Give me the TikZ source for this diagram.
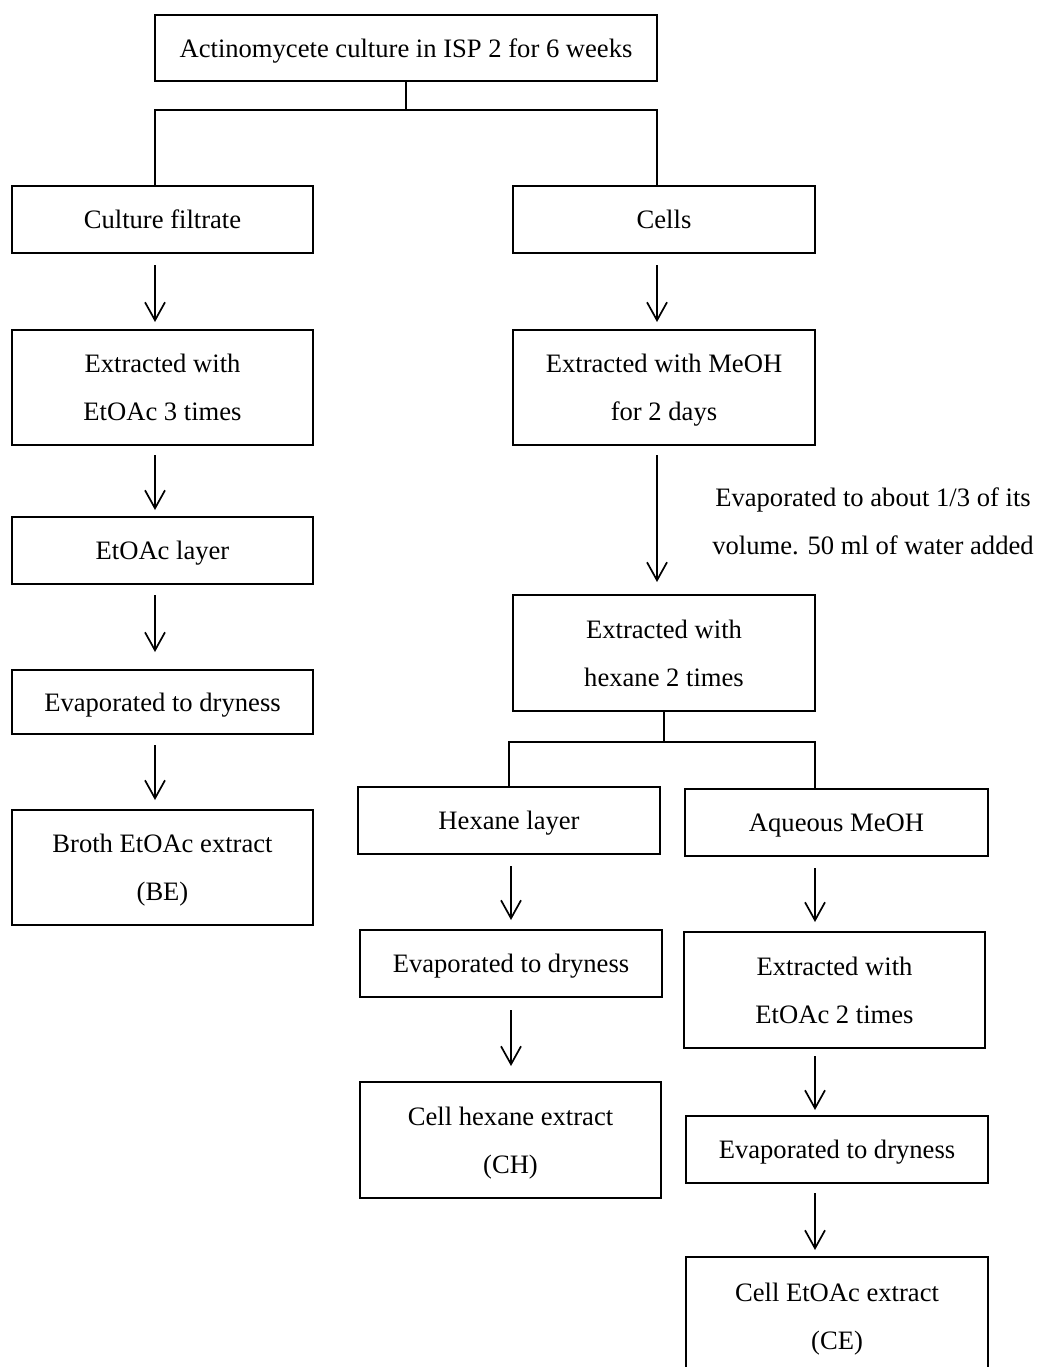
\documentclass[tikz,border=0pt]{standalone}
\usepackage{fontspec}
\setmainfont{Liberation Serif}
\usetikzlibrary{arrows.meta,calc}
\begin{document}
\begin{tikzpicture}[x=1pt,y=-1pt,
  box/.style={draw, line width=2pt, inner sep=0pt, outer sep=0pt, align=center,
    font=\fontsize{26.6}{48}\selectfont, text depth=0pt, minimum height=#1},
  box/.default=67pt,
  conn/.style={line width=2pt},
  arr/.style={line width=1.7pt, -{Straight Barb[length=18pt,width=20pt,line width=1.7pt]}},
  lbl/.style={align=center, font=\fontsize{26.6}{48}\selectfont, inner sep=0pt}]
\useasboundingbox (0,0) rectangle (1037,1367);
\clip (0,0) rectangle (1037,1367);
\fill[white] (0,0) rectangle (1037,1367);
% nodes
\node[box, minimum width=502pt, minimum height=66pt] (top) at (406,48) {Actinomycete culture in ISP 2 for 6 weeks};
\node[box, minimum width=301pt] (cf) at (162.5,219.5) {Culture filtrate};
\node[box, minimum width=302pt] (cells) at (664,219.5) {Cells};
\node[box=115pt, minimum width=301pt] (ex1) at (162.5,387.5) {Extracted with\\EtOAc 3 times};
\node[box, minimum width=301pt] (etl) at (162.5,550.5) {EtOAc layer};
\node[box=64pt, minimum width=301pt] (ev1) at (162.5,702) {Evaporated to dryness};
\node[box=115pt, minimum width=301pt] (be) at (162.5,867.5) {Broth EtOAc extract\\(BE)};
\node[box=115pt, minimum width=302pt] (exm) at (664,387.5) {Extracted with MeOH\\for 2 days};
\node[lbl] (evlbl) at (873,521) {Evaporated to about 1/3 of its\\volume. 50 ml of water added};
\node[box=116pt, minimum width=302pt] (exh) at (664,653) {Extracted with\\hexane 2 times};
\node[box, minimum width=302pt] (hl) at (509,820.5) {Hexane layer};
\node[box, minimum width=303pt] (aq) at (836.5,822.5) {Aqueous MeOH};
\node[box, minimum width=302pt] (ev2) at (511,963.5) {Evaporated to dryness};
\node[box=116pt, minimum width=301pt] (ch) at (510.5,1140) {Cell hexane extract\\(CH)};
\node[box=116pt, minimum width=301pt] (ex2) at (834.5,990) {Extracted with\\EtOAc 2 times};
\node[box, minimum width=302pt] (ev3) at (837,1149.5) {Evaporated to dryness};
\node[box=118pt, minimum width=302pt] (ce) at (837,1316) {Cell EtOAc extract\\(CE)};
% branch connectors
\coordinate (j1) at ($(top.south)+(0,29)$);
\draw[conn] (top.south) -- (j1);
\draw[conn] (cf.north -| top.west) |- (j1) -| (cells.north -| top.east);
\coordinate (j2) at ($(exh.south)+(0,31)$);
\draw[conn] (exh.south) -- (j2);
\draw[conn] (hl.north) |- (j2) -| (aq.north -| exh.east);
% arrows left
\draw[arr, shorten <=12pt, shorten >=8pt] (cf.south -| top.west) -- (ex1.north -| top.west);
\draw[arr, shorten <=10pt, shorten >=7pt] (ex1.south -| top.west) -- (etl.north -| top.west);
\draw[arr, shorten <=11pt, shorten >=18pt] (etl.south -| top.west) -- (ev1.north -| top.west);
\draw[arr, shorten <=11pt, shorten >=10pt] (ev1.south -| top.west) -- (be.north -| top.west);
% arrows right
\draw[arr, shorten <=12pt, shorten >=8pt] (cells.south -| top.east) -- (exm.north -| top.east);
\draw[arr, shorten <=10pt, shorten >=13pt] (exm.south -| top.east) -- (exh.north -| top.east);
\draw[arr, shorten <=12pt, shorten >=10pt] (hl.south -| ev2.north) -- (ev2.north);
\draw[arr, shorten <=13pt, shorten >=16pt] (ev2.south) -- (ch.north -| ev2.south);
\draw[arr, shorten <=12pt, shorten >=10pt] (aq.south -| exh.east) -- (ex2.north -| exh.east);
\draw[arr, shorten <=8pt, shorten >=6pt] (ex2.south -| exh.east) -- (ev3.north -| exh.east);
\draw[arr, shorten <=10pt, shorten >=7pt] (ev3.south -| exh.east) -- (ce.north -| exh.east);
\end{tikzpicture}
\end{document}
